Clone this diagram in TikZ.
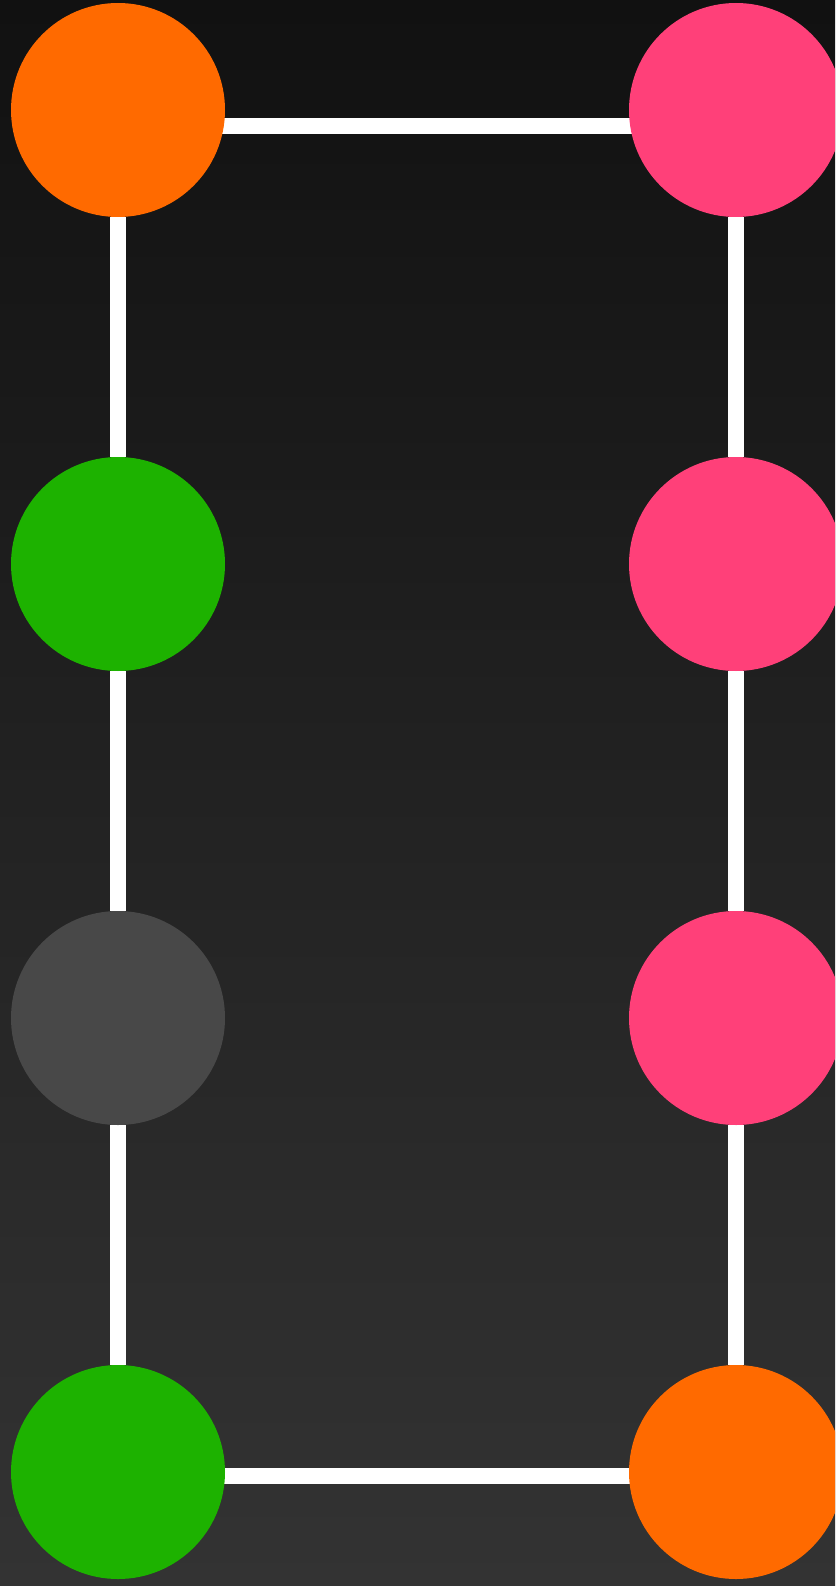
\documentclass[tikz,border=0pt]{standalone}
\usepackage{tikz}
\usetikzlibrary{backgrounds}

\definecolor{dotorange}{HTML}{FF6A00}
\definecolor{dotpink}{HTML}{FF4079}
\definecolor{dotgreen}{HTML}{1DB200}
\definecolor{dotgray}{HTML}{484848}
\definecolor{bgtop}{HTML}{111111}
\definecolor{bgbottom}{HTML}{333333}

\tikzset{
  dot/.style={circle, minimum size=214pt, inner sep=0pt, draw=none},
  link/.style={draw=white, line width=16pt}
}

\begin{document}
\begin{tikzpicture}[x=1pt, y=-1pt]

\clip (0,0) rectangle (835,1586);
\useasboundingbox (0,0) rectangle (835,1586);

\node[dot, fill=dotorange] (tl) at (118,110) {};
\node[dot, fill=dotpink] (tr) at (736,110) {};
\node[dot, fill=dotgreen] (ml) at (118,564) {};
\node[dot, fill=dotpink] (mr) at (736,564) {};
\node[dot, fill=dotgray] (ll) at (118,1018) {};
\node[dot, fill=dotpink] (lr) at (736,1018) {};
\node[dot, fill=dotgreen] (bl) at (118,1472) {};
\node[dot, fill=dotorange] (br) at (736,1472) {};

\begin{scope}[on background layer]
\shade[top color=bgtop, bottom color=bgbottom] (0,0) rectangle (835,1586);

\draw[link] ([yshift=-16pt]tl.center) -- ([yshift=-16pt]tr.center);
\draw[link] ([yshift=-4pt]bl.center) -- ([yshift=-4pt]br.center);

\draw[link] (tl) -- (ml);
\draw[link] (ml) -- (ll);
\draw[link] (ll) -- (bl);

\draw[link] (tr) -- (mr);
\draw[link] (mr) -- (lr);
\draw[link] (lr) -- (br);
\end{scope}

\end{tikzpicture}
\end{document}
